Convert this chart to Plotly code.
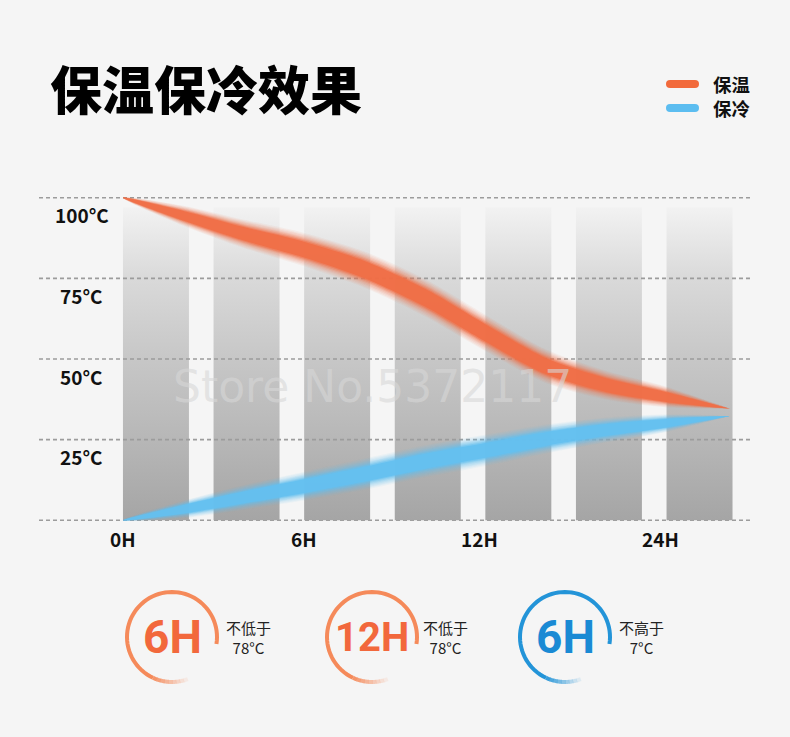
import numpy as np
import plotly.graph_objects as go

# ---------------- data ----------------
# x is the position along the time axis, ticks at 0H / 6H / 12H / 24H
curve_x = [0, 2, 4, 6, 8, 10, 12, 14, 16, 18, 20.1]
keep_warm = [100, 94.4, 88.8, 83.9, 77.7, 69.0, 58.1, 47.8, 41.9, 38.2, 34.6]
keep_cold = [0, 3.4, 7.1, 10.6, 14.3, 18.3, 21.7, 25.2, 28.0, 30.1, 32.3]

x_tick_pos = [0, 6, 11.8, 17.8]
x_tick_text = ["0H", "6H", "12H", "24H"]
y_grid = [0, 25, 50, 75, 100]
y_tick_text = ["", "25°C", "50°C", "75°C", "100°C"]

bar_left = [0, 3, 6, 9, 12, 15, 18]
bar_top = 97

series_names = ["保温", "保冷"]

badge_hours = ["6H", "12H", "6H"]
badge_cond = ["不低于", "不低于", "不高于"]
badge_temp = ["78°C", "78°C", "7°C"]

# ---------------- style ----------------
BG = "#f5f5f5"
ORANGE = "#f26a3b"
BLUE = "#5cbdf0"
FONT = "Noto Sans CJK SC"

W, H = 790, 737
ML, MR, MT, MB = 39, 38, 188, 207
X_RANGE = [-2.78, 20.83]
Y_RANGE = [-3, 103]
BAR_W = 2.185


def px_x(px):
    return (px - ML) / (W - ML - MR)


def px_y(py):
    return (H - MB - py) / (H - MT - MB)


def band(xs, ys, half):
    xs = np.array(xs, dtype=float)
    ys = np.array(ys, dtype=float)
    t = (xs - xs[0]) / (xs[-1] - xs[0])
    hw = half * (4 * t * (1 - t)) ** 0.6
    bx = np.concatenate([xs, xs[::-1]])
    by = np.concatenate([ys + hw, (ys - hw)[::-1]])
    return bx, by


def arc_path(r, a0, a1, n=60):
    # pixel-sized path, y counts upwards from the anchor
    a = np.radians(np.linspace(a0, a1, n))
    pts = [f"{r * np.cos(v):.2f},{r * np.sin(v):.2f}" for v in a]
    return "M" + " L".join(pts)


def capsule(x0, x1, r):
    return (f"M{x0},{-r} L{x1},{-r} Q{x1 + r},{-r} {x1 + r},0 Q{x1 + r},{r} {x1},{r} "
            f"L{x0},{r} Q{x0 - r},{r} {x0 - r},0 Q{x0 - r},{-r} {x0},{-r} Z")


fig = go.Figure()

# zero gridline sits under the bars
fig.add_trace(go.Scatter(
    x=X_RANGE, y=[y_grid[0]] * 2, mode="lines",
    line=dict(color="#9c9c9c", width=1.6, dash="4px,3px"),
    hoverinfo="skip", showlegend=False))

# grey gradient columns
for left in bar_left:
    fig.add_trace(go.Scatter(
        x=[left, left + BAR_W, left + BAR_W, left, left],
        y=[0, 0, bar_top, bar_top, 0],
        mode="lines", line=dict(width=0), fill="toself",
        fillgradient=dict(
            type="vertical", start=0, stop=bar_top,
            colorscale=[[0, "#a5a5a5"], [0.26, "#b7b7b7"], [0.52, "#c7c7c7"],
                        [0.77, "#d9d9d9"], [1, "#f2f2f2"]]),
        hoverinfo="skip", showlegend=False))

# the other gridlines run over the columns
for v in y_grid[1:]:
    fig.add_trace(go.Scatter(
        x=X_RANGE, y=[v, v], mode="lines",
        line=dict(color="#9c9c9c", width=1.6, dash="4px,3px"),
        hoverinfo="skip", showlegend=False))

# soft bands, outer layers faint
layers = [(1.6, 0.07), (1.48, 0.09), (1.36, 0.11), (1.24, 0.14),
          (1.12, 0.2), (1.0, 0.3), (0.88, 0.5), (0.76, 0.9)]
for ys, rgb, half in [(keep_warm, (240, 110, 70), 3.6), (keep_cold, (100, 192, 240), 3.1)]:
    for mult, alpha in layers:
        bx, by = band(curve_x, ys, half * mult)
        fig.add_trace(go.Scatter(
            x=bx, y=by, mode="lines", fill="toself",
            line=dict(width=0, shape="spline", smoothing=0.8),
            fillcolor=f"rgba({rgb[0]},{rgb[1]},{rgb[2]},{alpha})",
            hoverinfo="skip", showlegend=False))

# legend, drawn by hand so the rows sit as tight as in the picture
for i, (name, col) in enumerate(zip(series_names, [ORANGE, BLUE])):
    row_y = 84 + 24 * i
    fig.add_shape(type="path", xref="paper", yref="paper",
                  xsizemode="pixel", ysizemode="pixel",
                  xanchor=px_x(666), yanchor=px_y(row_y),
                  path=capsule(4, 29, 4), fillcolor=col, line=dict(width=0))
    fig.add_annotation(x=px_x(711), y=px_y(row_y), xref="paper", yref="paper",
                       xanchor="left", yanchor="middle", text=name, showarrow=False,
                       font=dict(family=FONT, size=18.4, color="#111", weight="bold"))

# y labels sit just under their gridline
for v, txt in zip(y_grid, y_tick_text):
    if txt:
        fig.add_annotation(x=-1.36, y=v, xref="x", yref="y", text=txt,
                           xanchor="center", yanchor="middle",
                           showarrow=False, yshift=-17,
                           font=dict(family=FONT, size=19, color="#111", weight="bold"))

# x labels, a little tighter to the axis than plotly's own ticks
for xv, txt in zip(x_tick_pos, x_tick_text):
    fig.add_annotation(x=xv, y=Y_RANGE[0], xref="x", yref="y", text=txt,
                       xanchor="center", yanchor="middle",
                       showarrow=False, yshift=-8.5,
                       font=dict(family=FONT, size=19, color="#111", weight="bold"))

# watermark
fig.add_annotation(x=px_x(372), y=px_y(386), xref="paper", yref="paper",
                   xanchor="center", yanchor="middle",
                   text="Store No.5372117", showarrow=False,
                   font=dict(family="DejaVu Sans", size=44, color="rgba(215,215,215,0.6)"))

# badges under the chart
centres = [172, 372, 565]
side_x = [248, 446, 641]
arc_cols = ["#f58a5a", "#f58a5a", "#2394d8"]
num_cols = ["#f2683c", "#f2683c", "#1a8ad4"]
num_size = [46, 40, 46]
cy = 637
for i in range(3):
    common = dict(type="path", xref="paper", yref="paper",
                  xsizemode="pixel", ysizemode="pixel",
                  xanchor=px_x(centres[i]), yanchor=px_y(cy))
    fig.add_shape(path=arc_path(45, -9, 245), line=dict(color=arc_cols[i], width=4), **common)
    steps = np.linspace(245, 290, 10)
    for k in range(len(steps) - 1):
        fig.add_shape(path=arc_path(45, steps[k], steps[k + 1] + 0.5, 6),
                      line=dict(color=arc_cols[i], width=4),
                      opacity=float(1 - (k + 1) / len(steps)), **common)
    fig.add_annotation(x=px_x(centres[i]), y=px_y(cy), xref="paper", yref="paper",
                       xanchor="center", yanchor="middle",
                       text=badge_hours[i], showarrow=False,
                       font=dict(family="Roboto", size=num_size[i], color=num_cols[i], weight="bold"))
    fig.add_annotation(x=px_x(side_x[i]), y=px_y(637), xref="paper", yref="paper",
                       xanchor="center", yanchor="middle",
                       text=badge_cond[i] + "<br>" + badge_temp[i], showarrow=False,
                       align="center",
                       font=dict(family=FONT, size=15, color="#222"))

fig.update_layout(
    width=W, height=H,
    margin=dict(l=ML, r=MR, t=MT, b=MB),
    paper_bgcolor=BG, plot_bgcolor=BG,
    title=dict(text="保温保冷效果", x=50 / W, xanchor="left",
               y=1 - 92 / H, yanchor="middle",
               font=dict(family=FONT, size=52, color="#000", weight=900)),
    xaxis=dict(range=X_RANGE, showgrid=False, zeroline=False, showline=False,
               tickvals=x_tick_pos, showticklabels=False, ticks=""),
    yaxis=dict(range=Y_RANGE, showgrid=False, zeroline=False, showline=False,
               showticklabels=False),
    showlegend=False,
)

fig.write_html("out.html",
               config={"displayModeBar": False},
               post_script="document.body.style.margin='0';"
                           "document.body.style.background='#f5f5f5';")
